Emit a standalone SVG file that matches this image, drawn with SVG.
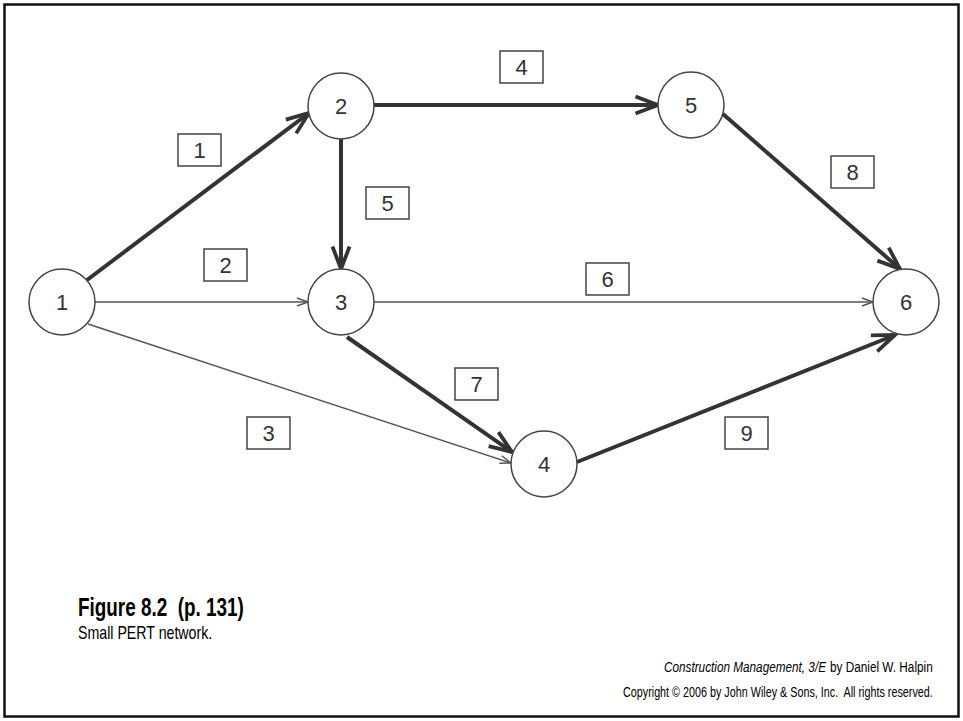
<svg xmlns="http://www.w3.org/2000/svg" width="963" height="721" viewBox="0 0 963 721">
<style>
.node circle{fill:#fff;stroke:#444;stroke-width:1.5}
.node text,.lbl text{font-family:"Liberation Sans",Arial,sans-serif;font-size:22px;fill:#333;text-anchor:middle}
.lbl rect{fill:#fff;stroke:#444;stroke-width:1.5}
.thick{stroke:#333;stroke-width:4;fill:none}
.thin{stroke:#555;stroke-width:1.5;fill:none}
.cap{font-family:"Liberation Sans",Arial,sans-serif;fill:#000}
</style>
<defs>
<marker id="ah" markerUnits="userSpaceOnUse" orient="auto" markerWidth="30" markerHeight="30" refX="0" refY="0" viewBox="-24 -12 28 24" overflow="visible">
<path d="M-21,-8 L0,0 L-21,8" fill="none" stroke="#333" stroke-width="3.5" stroke-linejoin="miter"/>
</marker>
<marker id="at" markerUnits="userSpaceOnUse" orient="auto" markerWidth="16" markerHeight="12" refX="0" refY="0" viewBox="-14 -6 16 12" overflow="visible">
<path d="M-11,-4 L0,0 L-11,4" fill="none" stroke="#555" stroke-width="1.5"/>
</marker>
</defs>
<rect x="4.5" y="4.5" width="954" height="712" fill="#fff" stroke="#111" stroke-width="2.5"/>
<g id="connectors">
<line class="thick" x1="87" y1="280" x2="309" y2="113" marker-end="url(#ah)"/>
<line class="thin" x1="95" y1="302" x2="308" y2="302" marker-end="url(#at)"/>
<line class="thin" x1="88" y1="324" x2="511" y2="463" marker-end="url(#at)"/>
<line class="thick" x1="374" y1="105" x2="658" y2="105" marker-end="url(#ah)"/>
<line class="thick" x1="341" y1="139" x2="341" y2="269" marker-end="url(#ah)"/>
<line class="thin" x1="374" y1="302" x2="873" y2="302" marker-end="url(#at)"/>
<line class="thick" x1="347" y1="337" x2="512" y2="452" marker-end="url(#ah)"/>
<line class="thick" x1="723" y1="114" x2="900" y2="269" marker-end="url(#ah)"/>
<line class="thick" x1="577" y1="462" x2="895" y2="335" marker-end="url(#ah)"/>
</g>
<g id="labels">
<g class="lbl" id="lbl1"><rect x="178" y="134" width="43" height="32"/><text x="199.5" y="158">1</text></g>
<g class="lbl" id="lbl2"><rect x="204" y="249" width="43" height="32"/><text x="225.5" y="273">2</text></g>
<g class="lbl" id="lbl3"><rect x="247" y="417" width="43" height="32"/><text x="268.5" y="441">3</text></g>
<g class="lbl" id="lbl4"><rect x="500" y="51" width="43" height="32"/><text x="521.5" y="75">4</text></g>
<g class="lbl" id="lbl5"><rect x="366" y="187" width="43" height="32"/><text x="387.5" y="211">5</text></g>
<g class="lbl" id="lbl6"><rect x="586" y="263" width="43" height="32"/><text x="607.5" y="287">6</text></g>
<g class="lbl" id="lbl7"><rect x="455" y="368" width="43" height="32"/><text x="476.5" y="392">7</text></g>
<g class="lbl" id="lbl8"><rect x="831" y="156" width="43" height="32"/><text x="852.5" y="180">8</text></g>
<g class="lbl" id="lbl9"><rect x="725" y="417" width="43" height="32"/><text x="746.5" y="441">9</text></g>
</g>
<g class="node" id="n1"><circle cx="62" cy="302" r="33"/><text x="62" y="310">1</text></g>
<g class="node" id="n2"><circle cx="341" cy="106" r="33"/><text x="341" y="114">2</text></g>
<g class="node" id="n3"><circle cx="341" cy="302" r="33"/><text x="341" y="310">3</text></g>
<g class="node" id="n4"><circle cx="544" cy="464" r="33"/><text x="544" y="472">4</text></g>
<g class="node" id="n5"><circle cx="691" cy="105" r="33"/><text x="691" y="113">5</text></g>
<g class="node" id="n6"><circle cx="906" cy="302" r="33"/><text x="906" y="310">6</text></g>
<g id="caption">
<g transform="translate(78,616) scale(0.75,1)"><text class="cap" x="0" y="0" font-size="26" font-weight="bold" textLength="221" lengthAdjust="spacingAndGlyphs" xml:space="preserve">Figure 8.2  (p. 131)</text></g>
<g transform="translate(78,639) scale(0.75,1)"><text class="cap" x="0" y="0" font-size="18" textLength="179" lengthAdjust="spacingAndGlyphs">Small PERT network.</text></g>
<g transform="translate(664,672) scale(0.75,1)"><text class="cap" x="0" y="0" font-size="15" font-style="italic" textLength="216" lengthAdjust="spacingAndGlyphs">Construction Management, 3/E</text></g>
<g transform="translate(830,672) scale(0.75,1)"><text class="cap" x="0" y="0" font-size="15" textLength="137" lengthAdjust="spacingAndGlyphs">by Daniel W. Halpin</text></g>
<g transform="translate(623,697) scale(0.75,1)"><text class="cap" x="0" y="0" font-size="15" textLength="413" lengthAdjust="spacingAndGlyphs" xml:space="preserve">Copyright © 2006 by John Wiley &amp; Sons, Inc.  All rights reserved.</text></g>
</g>
</svg>
